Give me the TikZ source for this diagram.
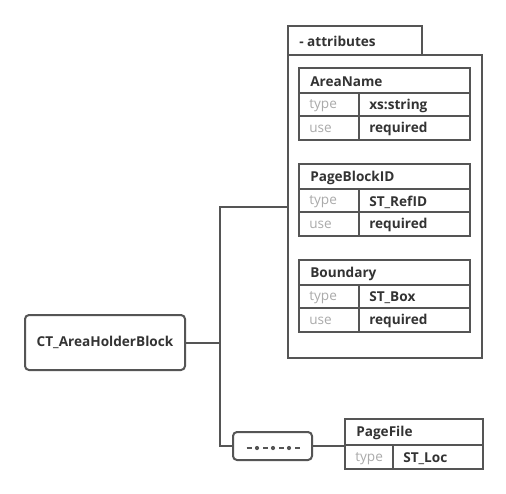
\documentclass[tikz,border=0pt]{standalone}
\usepackage{fontspec}
\setmainfont{Open Sans}
\definecolor{lc}{HTML}{555555}
\definecolor{tc}{HTML}{333333}
\definecolor{gc}{HTML}{AAAAAA}
\newcommand\attrtable[5]{%
  \node[box, minimum width=171*0.75pt, minimum height=72*0.75pt] (#1) at (298,#2) {};
  \draw[line] (298,#2+26) -- (469,#2+26);
  \draw[line] (298,#2+49) -- (469,#2+49);
  \draw[line] (359,#2+26) -- (359,#2+72);
  \node[lbl] (#1-h) at (310,#2+14.5) {#3};
  \node[glbl] (#1-t) at (309,#2+39) {type};
  \node[lbl] (#1-tv) at (369,#2+39) {#4};
  \node[glbl] (#1-u) at (309,#2+62) {use};
  \node[lbl] (#1-uv) at (369,#2+62) {#5};
}
\begin{document}
\begin{tikzpicture}[x=0.75pt,y=-0.75pt,
  line/.style={draw=lc, line width=1.5pt},
  box/.style={draw=lc, line width=1.5pt, inner sep=0pt, anchor=north west},
  lbl/.style={font=\bfseries\fontsize{10.2}{12}\selectfont, text=tc, anchor=west, inner sep=0pt},
  glbl/.style={font=\fontsize{10.2}{12}\selectfont, text=gc, anchor=west, inner sep=0pt},
]
\useasboundingbox (0,0) rectangle (506,493);
\fill[white] (0,0) rectangle (506,493);
% root
\node[draw=lc, line width=1.5pt, rounded corners=3pt, minimum width=160*0.75pt, minimum height=55*0.75pt, inner sep=0pt,
  font=\bfseries\fontsize{10.2}{12}\selectfont, text=tc] (ct) at (105,342.5) {CT\_AreaHolderBlock};
% attributes group
\node[box, minimum width=134*0.75pt, minimum height=29*0.75pt] (tab) at (287,25) {};
\node[lbl] (tabl) at (299,41.5) {- attributes};
\node[box, minimum width=194*0.75pt, minimum height=303*0.75pt] (attr) at (287,54) {};
\attrtable{an}{67}{AreaName}{xs:string}{required}
\attrtable{pb}{163}{PageBlockID}{ST\_RefID}{required}
\attrtable{bd}{259}{Boundary}{ST\_Box}{required}
% sequence
\node[draw=lc, line width=1.5pt, rounded corners=3pt, minimum width=79*0.75pt, minimum height=28*0.75pt, inner sep=0pt] (seq) at (272.5,446) {};
\draw[lc, line width=1.3pt] (246.5,448) -- (251.5,448) (263,448) -- (268,448) (279,448) -- (284,448) (295,448) -- (300,448);
\fill[lc] (257,448) circle (2.1) (273,448) circle (2.1) (289,448) circle (2.1);
% PageFile
\node[box, minimum width=138*0.75pt, minimum height=50*0.75pt] (pf) at (344,418) {};
\draw[line] (344,445) -- (482,445);
\draw[line] (393,445) -- (393,468);
\node[lbl] (pf-h) at (356,433) {PageFile};
\node[glbl] (pf-t) at (355,458.5) {type};
\node[lbl] (pf-tv) at (403,458.5) {ST\_Loc};
% connectors
\coordinate (j) at (220,342.5);
\draw[line] (ct.east) -- (j);
\draw[line] (j) |- (attr.west);
\draw[line] (j) |- (seq.west);
\draw[line] (seq.east) -- (seq.east -| pf.west);
\end{tikzpicture}
\end{document}
